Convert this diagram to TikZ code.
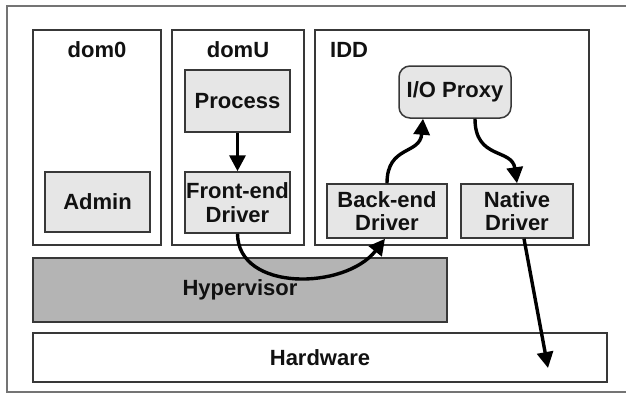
\documentclass[tikz,border=0pt]{standalone}
\usepackage{fontspec}
\setmainfont{Liberation Sans}
\usetikzlibrary{arrows.meta}
\definecolor{edge}{HTML}{383838}
\definecolor{boxfill}{HTML}{E6E6E6}
\definecolor{hypfill}{HTML}{B4B4B4}
\definecolor{txt}{HTML}{111111}
\tikzset{
  container/.style={draw=edge, line width=1.5pt, fill=white, inner sep=0pt},
  inbox/.style={draw=edge, line width=1.5pt, fill=boxfill, inner sep=0pt, align=center,
    font=\fontsize{22}{23.5}\selectfont\bfseries, text=txt},
  lbl/.style={font=\fontsize{22}{23.5}\selectfont\bfseries, text=txt, inner sep=0pt},
  flow/.style={line width=3.4pt, draw=black, -{Triangle[length=16pt,width=16pt]}},
}
\begin{document}
\begin{tikzpicture}[x=1pt,y=-1pt]
\useasboundingbox (0,0) rectangle (626,394);
\draw[draw=edge!70, line width=1.4pt] (640,6) -- (7,6) -- (7,392) -- (640,392);
% containers
\node[container, minimum width=128pt, minimum height=215pt] (dom0) at (97,137.5) {};
\node[container, minimum width=132pt, minimum height=215pt] (domU) at (238,137.5) {};
\node[container, minimum width=274pt, minimum height=215pt] (idd) at (452,137.5) {};
\node[lbl] (dom0l) at (97,50) {dom0};
\node[lbl] (domUl) at (238,50) {domU};
\node[lbl, anchor=west] (iddl) at (330,50) {IDD};
% inner boxes
\node[inbox, minimum width=105pt, minimum height=62pt] (proc) at (237.5,101) {Process};
\node[inbox, minimum width=105pt, minimum height=61pt] (fe) at (237.5,202.5) {Front-end\\Driver};
\node[inbox, minimum width=105pt, minimum height=60pt] (admin) at (97.5,202) {Admin};
\node[inbox, rounded corners=11pt, minimum width=112pt, minimum height=52pt] (iop) at (455,92) {I/O Proxy};
\node[inbox, minimum width=120pt, minimum height=54pt] (be) at (387,211) {Back-end\\Driver};
\node[inbox, minimum width=112pt, minimum height=54pt] (nd) at (517,211) {Native\\Driver};
% layers
\node[inbox, fill=hypfill, minimum width=414pt, minimum height=64pt] (hyp) at (240,290) {Hypervisor};
\node[inbox, fill=white, minimum width=574pt, minimum height=49pt] (hw) at (320,357.5) {Hardware};
% arrows
\coordinate (hwend) at (548,368);
\draw[flow] (proc.south) -- (fe.north);
\draw[flow] (fe.south) .. controls (238,292) and (345,290) .. ([xshift=-2pt]be.south);
\draw[flow] (be.north) .. controls (387,145) and (420,155) .. ([xshift=-32pt]iop.south);
\draw[flow] ([xshift=20pt]iop.south) .. controls (475,160) and (512,148) .. (nd.north);
\draw[flow] ([xshift=7pt]nd.south) -- (hwend);
\end{tikzpicture}
\end{document}
